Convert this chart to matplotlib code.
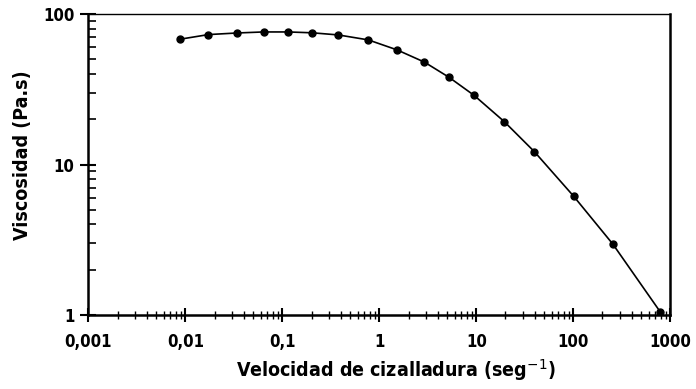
import numpy as np
import matplotlib
matplotlib.use('Agg')
import matplotlib.pyplot as plt
from matplotlib.ticker import LogLocator, NullFormatter, FixedLocator

# data
shear_rate = [0.0088, 0.0173, 0.034, 0.064, 0.115, 0.204, 0.378, 0.77, 1.52,
              2.92, 5.26, 9.5, 19.4, 39.6, 100.7, 256, 789]
viscosity = [68, 73, 74.8, 76, 76, 75, 72.6, 67.3, 57.8,
             47.9, 37.9, 28.8, 19.3, 12.2, 6.17, 2.96, 1.05]

x_ticks = [0.001, 0.01, 0.1, 1, 10, 100, 1000]
x_labels = ['0,001', '0,01', '0,1', '1', '10', '100', '1000']
y_ticks = [1, 10, 100]
y_labels = ['1', '10', '100']

txt = dict(fontfamily='DejaVu Sans', fontstretch='condensed', fontweight='bold')

fig = plt.figure(figsize=(6.96, 3.89), dpi=100)
ax = fig.add_axes([0.127, 0.19, 0.836, 0.774])

ax.plot(shear_rate, viscosity, color='black', lw=1.2, marker='o', ms=5)

ax.set_xscale('log')
ax.set_yscale('log')
ax.set_xlim(0.001, 1000)
ax.set_ylim(1, 100)

ax.xaxis.set_major_locator(FixedLocator(x_ticks))
ax.set_xticklabels(x_labels, fontsize=12, **txt)
ax.yaxis.set_major_locator(FixedLocator(y_ticks))
ax.set_yticklabels(y_labels, fontsize=12, **txt)
ax.xaxis.set_minor_locator(LogLocator(base=10, subs=np.arange(2, 10)))
ax.yaxis.set_minor_locator(LogLocator(base=10, subs=np.arange(2, 10)))
ax.xaxis.set_minor_formatter(NullFormatter())
ax.yaxis.set_minor_formatter(NullFormatter())

ax.tick_params(axis='x', which='major', direction='inout', length=10, width=1.5, pad=8)
ax.tick_params(axis='x', which='minor', direction='inout', length=6, width=1.0)
ax.tick_params(axis='y', which='major', direction='inout', length=12, width=1.5, pad=4)
ax.tick_params(axis='y', which='minor', direction='in', length=6, width=1.2)

for side in ['left', 'bottom', 'right']:
    ax.spines[side].set_linewidth(1.8)
ax.spines['top'].set_linewidth(1.0)

ax.set_xlabel('Velocidad de cizalladura (seg$^{-1}$)', fontsize=14,
              labelpad=4, **txt)
ax.xaxis.label.set_x(0.529)
ax.set_ylabel('Viscosidad (Pa.s)', fontsize=14, labelpad=8, **txt)
ax.yaxis.label.set_y(0.53)

fig.savefig('out.png', dpi=100)
